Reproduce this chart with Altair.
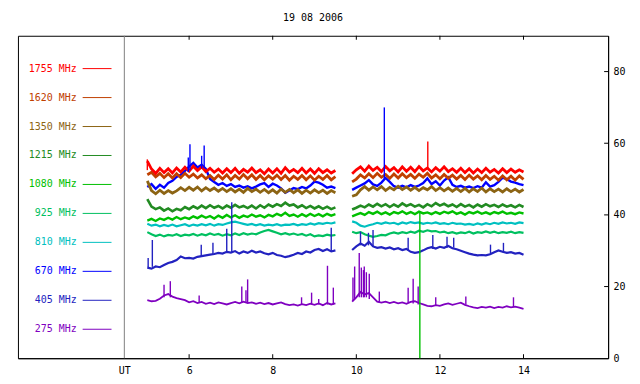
import altair as alt
import pandas as pd

TITLE = "19 08 2006"
FONT = "DejaVu Sans Mono"
FREQS = ["1755", "1620", "1350", "1215", "1080", "925", "810", "670", "405", "275"]
COLORS = ["#ff0000", "#c04000", "#8c6414", "#228b22", "#00c000",
          "#00c060", "#00c0c0", "#0000ff", "#2222c0", "#7f00c0"]
WIDTHS = [2.8, 2.8, 2.8, 2.6, 2.4, 2.2, 2.2, 2.4, 2.2, 1.8]

X_TICKS = [6, 8, 10, 12, 14]
Y_TICKS = [20, 40, 60, 80]
UT_POS = 4.45

T1 = [5.0, 5.1, 5.2, 5.3, 5.4, 5.5, 5.6, 5.7, 5.8, 5.9,
      6.0, 6.1, 6.2, 6.3, 6.4, 6.5, 6.6, 6.7, 6.8, 6.9,
      7.0, 7.1, 7.2, 7.3, 7.4, 7.5, 7.6, 7.7, 7.8, 7.9,
      8.0, 8.1, 8.2, 8.3, 8.4, 8.5, 8.6, 8.7, 8.8, 8.9,
      9.0, 9.1, 9.2, 9.3, 9.4, 9.5]
T2 = [9.9,
      10.0, 10.1, 10.2, 10.3, 10.4, 10.5, 10.6, 10.7, 10.8, 10.9,
      11.0, 11.1, 11.2, 11.3, 11.4, 11.5, 11.6, 11.7, 11.8, 11.9,
      12.0, 12.1, 12.2, 12.3, 12.4, 12.5, 12.6, 12.7, 12.8, 12.9,
      13.0, 13.1, 13.2, 13.3, 13.4, 13.5, 13.6, 13.7, 13.8, 13.9,
      14.0]

V1755_A = [55.0, 52.8, 51.6, 53.0, 51.8, 52.9, 51.7, 53.1, 52.0, 53.3,
           52.2, 53.6, 52.4, 53.4, 52.1, 53.0, 51.9, 52.8, 51.7, 52.9,
           51.8, 53.0, 51.6, 52.7, 51.9, 53.1, 51.8, 52.6, 51.5, 52.8,
           51.7, 52.9, 51.6, 53.2, 51.9, 52.7, 51.8, 53.0, 51.7, 52.8,
           51.6, 52.9, 51.8, 52.6, 51.7, 52.4]
V1755_B = [51.5, 52.6, 53.4, 52.2, 53.6, 52.4, 53.3, 52.1, 53.5, 52.3,
           53.2, 52.0, 53.4, 52.2, 53.3, 52.1, 53.5, 52.3, 53.1, 52.0,
           53.2, 52.2, 53.4, 52.1, 52.9, 51.9, 53.0, 51.8, 52.9, 51.7,
           52.8, 51.8, 53.0, 51.9, 52.7, 51.7, 52.9, 51.8, 52.8, 51.9,
           52.6, 52.0]

V1620_A = [51.2, 51.9, 50.6, 51.6, 50.4, 51.5, 50.3, 51.5, 50.4, 51.6,
           50.5, 51.4, 50.3, 51.2, 50.1, 51.0, 49.9, 51.1, 50.0, 51.2,
           49.8, 51.0, 50.0, 51.3, 50.1, 51.2, 49.9, 51.0, 49.8, 50.9,
           50.0, 51.1, 49.9, 51.0, 49.7, 50.8, 49.9, 51.0, 49.8, 50.9,
           49.7, 50.8, 49.9, 51.0, 49.8, 50.7]
V1620_B = [49.2, 50.0, 51.2, 50.3, 51.5, 50.4, 51.6, 50.5, 51.3, 50.2,
           51.4, 50.3, 51.5, 50.4, 51.3, 50.2, 51.4, 50.5, 51.6, 50.3,
           51.2, 50.1, 51.3, 50.2, 51.1, 50.0, 51.0, 49.9, 51.1, 50.0,
           50.9, 49.8, 51.0, 49.9, 50.8, 49.7, 50.9, 49.8, 50.8, 49.7,
           50.9, 49.9]

V1350_A = [49.5, 46.8, 45.9, 46.9, 46.0, 46.8, 46.1, 46.7, 47.6, 46.8,
           47.7, 46.9, 47.8, 46.7, 47.6, 46.8, 47.5, 46.6, 47.4, 46.5,
           47.3, 46.4, 47.2, 46.3, 47.4, 46.5, 47.2, 46.3, 47.1, 46.2,
           47.0, 46.1, 47.2, 46.3, 47.1, 46.2, 47.0, 46.0, 46.9, 46.1,
           47.0, 46.2, 46.9, 46.0, 46.8, 46.2]
V1350_B = [45.2, 45.6, 47.0, 47.9, 46.9, 47.8, 47.0, 47.9, 46.8, 47.7,
           47.0, 48.0, 47.1, 47.8, 46.9, 47.7, 46.8, 47.6, 47.0, 47.9,
           46.8, 47.6, 46.7, 47.5, 46.6, 47.4, 46.5, 47.4, 46.4, 47.3,
           46.5, 47.5, 46.4, 47.3, 46.5, 47.2, 46.4, 47.3, 46.5, 47.2,
           46.4, 47.1]

V1215_A = [44.4, 42.3, 41.6, 42.1, 41.2, 41.8, 41.0, 41.7, 41.3, 42.2,
           41.6, 42.4, 41.8, 42.6, 41.9, 42.7, 42.0, 42.5, 41.8, 42.6,
           42.0, 42.8, 42.1, 42.5, 41.9, 42.6, 41.8, 42.7, 42.0, 42.9,
           42.3, 43.0, 42.5, 43.4, 42.6, 42.9, 42.1, 42.7, 41.9, 42.5,
           41.8, 42.4, 41.7, 42.3, 41.6, 42.1]
V1215_B = [41.5, 42.0, 42.6, 42.1, 42.9, 42.3, 43.1, 42.4, 43.0, 42.2,
           42.9, 42.3, 43.2, 42.5, 43.0, 42.3, 42.8, 42.1, 43.0, 42.4,
           43.3, 42.6, 43.1, 42.4, 42.9, 42.2, 43.0, 42.3, 42.8, 42.1,
           42.9, 42.3, 43.0, 42.4, 42.8, 42.2, 42.9, 42.3, 42.7, 42.1,
           42.8, 42.2]

V1080_A = [38.4, 38.9, 38.3, 39.0, 38.6, 39.2, 38.7, 39.4, 38.8, 39.3,
           38.9, 39.6, 39.1, 39.8, 39.2, 39.7, 39.0, 39.8, 39.2, 40.0,
           39.3, 39.9, 39.2, 39.8, 39.4, 40.1, 39.5, 39.9, 39.3, 40.0,
           39.6, 40.3, 39.8, 40.6, 39.7, 40.1, 39.5, 40.2, 39.6, 40.3,
           39.7, 40.2, 39.6, 40.3, 39.8, 40.2]
V1080_B = [39.6, 40.1, 40.5, 40.0, 40.8, 40.3, 40.9, 40.2, 40.7, 40.1,
           40.8, 40.4, 41.0, 40.3, 40.8, 40.2, 40.9, 40.4, 40.7, 40.2,
           40.8, 40.3, 40.9, 40.5, 41.0, 40.3, 40.7, 40.1, 40.8, 40.4,
           40.9, 40.3, 40.7, 40.2, 40.8, 40.4, 40.9, 40.3, 40.6, 40.2,
           40.7, 40.4]

V925_A = [35.2, 34.6, 34.1, 34.5, 34.0, 34.4, 34.2, 34.6, 34.1, 34.5,
          34.3, 34.7, 34.2, 34.6, 34.3, 34.8, 34.4, 34.7, 34.2, 34.6,
          34.3, 34.8, 34.4, 34.9, 34.5, 34.8, 34.6, 35.1, 35.5, 35.8,
          35.4, 35.0, 34.6, 34.9, 34.5, 34.8, 34.4, 34.7, 34.2, 34.6,
          34.0, 34.3, 34.1, 34.5, 34.2, 34.4]
V925_B = [35.3, 34.9, 35.2, 34.6, 34.2, 33.9, 34.1, 34.4, 34.3, 34.8,
          35.1, 34.8, 35.2, 34.9, 35.3, 35.0, 35.6, 35.3, 35.7, 35.4,
          35.5, 35.1, 35.3, 34.9, 35.2, 34.8, 35.1, 34.9, 35.3, 34.8,
          35.2, 35.0, 35.4, 35.0, 35.3, 34.9, 35.2, 35.0, 35.3, 34.9,
          35.2, 35.0]

V810_A = [37.5, 37.0, 37.3, 36.8, 37.2, 36.9, 37.3, 36.8, 37.1, 37.4,
          36.9, 37.3, 37.0, 37.4, 37.1, 37.5, 37.0, 37.4, 37.2, 37.6,
          37.9, 38.1, 37.8, 37.5, 37.2, 37.5, 37.1, 37.4, 37.0, 37.3,
          37.1, 37.4, 37.0, 37.3, 37.2, 37.5, 37.1, 37.4, 37.2, 37.6,
          37.3, 37.7, 37.5, 37.8, 37.6, 37.9]
V810_B = [38.2, 37.8, 37.0, 36.7, 37.1, 37.4, 37.8, 37.5, 37.9, 37.6,
          37.8, 37.4, 37.9, 37.6, 38.0, 37.7, 37.9, 37.5, 37.8, 37.6,
          37.9, 37.5, 37.7, 37.4, 37.8, 37.5, 37.6, 37.3, 37.5, 37.2,
          37.6, 37.3, 37.7, 37.4, 37.8, 37.5, 37.9, 37.6, 37.8, 37.5,
          37.9, 37.7]

V670_A = [47.8, 48.6, 47.3, 48.4, 47.6, 48.9, 49.5, 50.6, 51.2, 52.3,
          53.5, 54.5, 53.2, 54.0, 52.8, 50.0, 49.2, 48.4, 48.9, 48.1,
          48.6, 47.8, 48.2, 47.6, 48.0, 47.4, 47.9, 48.5, 48.9, 47.8,
          48.7, 48.2, 47.4, 46.2, 46.8, 47.5, 47.2, 47.8, 47.4, 48.2,
          49.3, 49.0, 48.4, 47.6, 47.9, 47.5]
V670_B = [47.0, 47.6, 48.2, 48.8, 49.7, 48.5, 48.1, 49.0, 50.3, 49.2,
          48.0, 47.6, 48.1, 47.7, 48.3, 47.8, 48.2, 48.9, 50.2, 48.6,
          49.4, 48.2, 49.6, 50.5, 48.4, 47.8, 48.1, 47.6, 47.9, 47.5,
          48.0, 47.6, 49.1, 47.9, 48.3, 49.2, 50.4, 50.0, 49.3, 49.0,
          48.6, 48.3]

V405_A = [25.3, 25.0, 25.6, 25.4, 26.0, 26.6, 26.9, 27.4, 28.4, 27.9,
          28.0, 27.8, 28.3, 28.5, 28.7, 28.9, 29.1, 29.4, 29.2, 29.7,
          29.5, 29.9, 29.2, 29.8, 29.4, 30.0, 29.5, 29.8, 29.3, 29.0,
          29.4, 28.8, 28.6, 28.2, 28.5, 28.9, 29.4, 29.1, 29.8, 29.5,
          30.2, 30.5, 29.9, 30.4, 29.8, 30.1]
V405_B = [30.2, 31.2, 32.0, 31.4, 32.5, 31.2, 30.8, 31.0, 30.6, 30.9,
          30.4, 30.7, 30.2, 30.5, 29.7, 29.4, 29.6, 30.1, 30.7, 31.0,
          30.6, 31.1, 30.8, 31.3, 30.7, 30.4, 30.0, 29.6, 29.2, 28.9,
          28.7, 28.8, 28.7, 29.0, 29.6, 30.1, 29.7, 29.4, 29.6, 29.2,
          29.4, 28.9]

V275_A = [16.2, 15.9, 16.0, 16.6, 17.5, 17.9, 17.2, 16.8, 16.5, 16.2,
          15.6, 15.9, 15.4, 15.7, 15.2, 15.5, 15.1, 15.6, 15.3, 15.0,
          15.4, 15.7, 15.3, 15.8, 15.4, 15.6, 15.2, 15.5, 15.1, 15.4,
          15.0, 15.3, 15.6, 15.1, 14.8, 15.0, 14.7, 15.1, 14.8, 15.2,
          14.9, 15.3, 14.8, 15.4, 15.0, 15.3]
V275_B = [15.8, 17.0, 18.5, 17.8, 18.2, 17.0, 15.8, 15.5, 15.8, 15.4,
          15.7, 15.3, 15.6, 15.2, 15.7, 15.9, 15.4, 15.0, 14.6, 14.5,
          14.8, 14.6, 15.0, 15.3, 14.9, 15.2, 15.5, 14.9, 14.5, 14.2,
          14.0, 14.3, 14.1, 14.4, 14.0, 14.3, 14.1, 14.5, 14.2, 14.4,
          14.1, 13.8]

SERIES = {
    "1755": (V1755_A, V1755_B), "1620": (V1620_A, V1620_B),
    "1350": (V1350_A, V1350_B), "1215": (V1215_A, V1215_B),
    "1080": (V1080_A, V1080_B), "925": (V925_A, V925_B),
    "810": (V810_A, V810_B), "670": (V670_A, V670_B),
    "405": (V405_A, V405_B), "275": (V275_A, V275_B),
}

# Narrow bursts (freq, time, low, high)
SPIKE_FREQ = ["1755", "1755",
              "670", "670", "670", "670", "670",
              "1080",
              "405", "405", "405", "405", "405", "405", "405", "405", "405",
              "405", "405", "405", "405", "405", "405", "405",
              "275", "275", "275", "275", "275", "275", "275", "275", "275",
              "275", "275", "275", "275", "275", "275", "275", "275", "275",
              "275", "275", "275", "275", "275", "275", "275", "275"]
SPIKE_T = [5.0, 11.71,
           5.98, 6.02, 6.30, 6.36, 10.67,
           11.52,
           5.02, 5.12, 6.29, 6.57, 6.90, 7.02, 9.40, 10.10, 10.29,
           10.40, 11.24, 11.83, 12.17, 12.33, 13.21, 13.52,
           5.40, 5.55, 6.24, 7.26, 7.36, 7.40, 8.69, 8.93, 9.10,
           9.31, 9.45, 9.92, 9.96, 10.07, 10.12, 10.17, 10.19, 10.24,
           10.31, 10.55, 11.24, 11.36, 11.48, 11.90, 12.62, 13.76]
SPIKE_LO = [52.5, 53.0,
            52.0, 52.5, 53.0, 53.0, 50.0,
            0.0,
            25.3, 25.5, 28.4, 29.0, 29.5, 29.5, 29.8, 31.5, 31.5,
            31.2, 30.0, 30.5, 30.8, 30.8, 29.0, 29.4,
            17.0, 17.0, 15.5, 15.5, 15.5, 15.5, 15.0, 15.0, 15.0,
            15.0, 15.0, 16.0, 16.5, 17.0, 17.0, 17.0, 17.0, 17.0,
            16.5, 15.5, 15.5, 15.3, 15.0, 14.6, 15.0, 14.2]
SPIKE_HI = [55.5, 60.5,
            56.0, 59.7, 56.5, 59.4, 70.0,
            40.5,
            28.0, 33.0, 31.7, 32.2, 36.1, 43.5, 36.4, 35.3, 35.0,
            35.8, 33.6, 34.4, 33.9, 33.6, 31.7, 32.2,
            20.5, 21.5, 17.5, 20.0, 19.0, 22.0, 17.0, 18.3, 16.5,
            25.8, 19.7, 22.5, 25.6, 29.4, 25.3, 24.6, 25.6, 24.0,
            23.6, 18.6, 19.7, 22.2, 20.0, 17.0, 17.2, 17.0]

W, H = 593, 324
X_DOMAIN = [1.905, 16.024]
Y_DOMAIN = [0, 90]

xscale = alt.Scale(domain=X_DOMAIN, nice=False, zero=False)
yscale = alt.Scale(domain=Y_DOMAIN, nice=False, zero=False)
xaxis = alt.Axis(values=[UT_POS] + X_TICKS,
                 labelExpr="datum.value < 5 ? 'UT' : format(datum.value, 'd')",
                 ticks=False, tickSize=0, grid=False, domainColor="black",
                 labelPadding=7, labelFont=FONT, labelFontSize=10,
                 labelColor="black", title=None, labelFlush=False,
                 labelOverlap=False)
yaxis = alt.Axis(orient="right", values=[0] + Y_TICKS, ticks=False, tickSize=0,
                 grid=False, domainColor="black", labelPadding=5,
                 labelFont=FONT, labelFontSize=10, labelColor="black",
                 title=None, labelFlush=False, labelOverlap=False)
X = alt.X("t:Q", scale=xscale, axis=xaxis)
Y = alt.Y("v:Q", scale=yscale, axis=yaxis)

layers = []
color_of = dict(zip(FREQS, COLORS))
width_of = dict(zip(FREQS, WIDTHS))
for f in reversed(FREQS):
    a, b = SERIES[f]
    df = pd.DataFrame({
        "t": T1 + T2,
        "v": a + b,
        "seg": ["a"] * len(T1) + ["b"] * len(T2),
    })
    layers.append(
        alt.Chart(df).mark_line(color=color_of[f], strokeWidth=width_of[f],
                                strokeJoin="miter")
        .encode(x=X, y=Y, detail="seg:N")
    )

spikes = pd.DataFrame({"f": SPIKE_FREQ, "t": SPIKE_T, "lo": SPIKE_LO, "hi": SPIKE_HI})
layers.append(
    alt.Chart(spikes).mark_rule(strokeWidth=1.4).encode(
        x=X, y=alt.Y("lo:Q", scale=yscale, axis=yaxis), y2="hi:Q",
        color=alt.Color("f:N", scale=alt.Scale(domain=FREQS, range=COLORS), legend=None),
    )
)

# UT boundary line
layers.append(
    alt.Chart(pd.DataFrame({"t": [UT_POS]})).mark_rule(color="#808080", strokeWidth=1)
    .encode(x=X, y=alt.value(0), y2=alt.value(H))
)
# inward ticks
xt = pd.DataFrame({"t": X_TICKS})
layers.append(alt.Chart(xt).mark_rule(color="black").encode(x=X, y=alt.value(H), y2=alt.value(H - 4)))
layers.append(alt.Chart(xt).mark_rule(color="black").encode(x=X, y=alt.value(0), y2=alt.value(4)))
yt = pd.DataFrame({"v": Y_TICKS})
layers.append(alt.Chart(yt).mark_rule(color="black").encode(y=Y, x=alt.value(W - 4), x2=alt.value(W)))

# legend column on the left
one = pd.DataFrame({"d": [0]})
for i, (f, c) in enumerate(zip(FREQS, COLORS)):
    py = 33 + 29.1 * i
    layers.append(
        alt.Chart(one).mark_text(align="right", baseline="middle", font=FONT,
                                 fontSize=10, color=c, text=f"{f} MHz")
        .encode(x=alt.value(59), y=alt.value(py))
    )
    layers.append(
        alt.Chart(one).mark_rule(color=c, strokeWidth=1)
        .encode(x=alt.value(65), x2=alt.value(94), y=alt.value(py))
    )

chart = alt.layer(*layers).properties(
    width=W, height=H,
    title=alt.TitleParams(TITLE, font=FONT, fontSize=10, fontWeight="normal",
                          color="black", anchor="middle", offset=12),
    padding={"left": 10, "top": 27, "right": 24, "bottom": 22},
    autosize=alt.AutoSizeParams(type="none"),
).configure_view(stroke="black", strokeWidth=1)

chart.save("out.html", embed_options={"renderer": "svg", "actions": False})
